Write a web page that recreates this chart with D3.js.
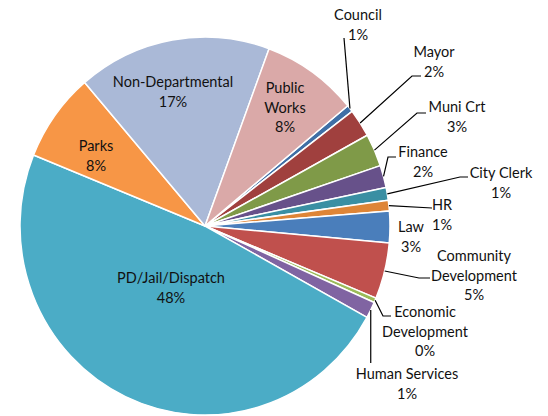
<!DOCTYPE html>
<html>
<head>
<meta charset="utf-8">
<script src="https://cdn.jsdelivr.net/npm/d3@7"></script>
<style>
  html, body { margin: 0; padding: 0; background: #fff; }
  svg { display: block; }
  text { font-family: Lato, "Open Sans", sans-serif; font-size: 14.5px; fill: #111; }
</style>
</head>
<body>
<svg id="chart" width="548" height="416"></svg>
<script>
// Budget share by department (percent of total), clockwise from Council
const categories = [
  "Council", "Mayor", "Muni Crt", "Finance", "City Clerk", "HR", "Law",
  "Community Development", "Economic Development", "Human Services",
  "PD/Jail/Dispatch", "Parks", "Non-Departmental", "Public Works"
];
const shares = [0.6, 2.4, 2.8, 1.9, 1.1, 0.9, 2.7, 4.8, 0.4, 1.4, 48.1, 7.6, 16.9, 8.4];
const colors = [
  "#3f6fa6", "#a0403e", "#7f9a48", "#67518a", "#3a8fa3", "#de8537", "#4a7ebb",
  "#c0504d", "#9bbb59", "#8064a2", "#4bacc6", "#f79646", "#aab9d7", "#daa9a8"
];

// Label placement: text block centre x, first line centre y, text lines, leader path
const labelLayout = {
  "Council":               { x: 358, y: 15,  lines: ["Council"], leader: [[344, 38]] },
  "Mayor":                 { x: 434, y: 52,  lines: ["Mayor"], leader: [[412, 76], [421, 76]] },
  "Muni Crt":              { x: 457, y: 107, lines: ["Muni Crt"], leader: [[417, 113], [426, 113]] },
  "Finance":               { x: 423, y: 152, lines: ["Finance"], leader: [[388, 157], [396, 157]] },
  "City Clerk":            { x: 501, y: 173, lines: ["City Clerk"], leader: [[460, 177], [468, 177]] },
  "HR":                    { x: 442, y: 205, lines: ["HR"], leader: [[432, 208]] },
  "Law":                   { x: 411, y: 227, lines: ["Law"] },
  "Community Development": { x: 474, y: 256, lines: ["Community", "Development"], leader: [[419, 278], [430, 278]] },
  "Economic Development":  { x: 425, y: 312, lines: ["Economic", "Development"], leader: [[383, 316], [391, 316]] },
  "Human Services":        { x: 407, y: 374, lines: ["Human Services"], leader: [[null, 363]] },
  "PD/Jail/Dispatch":      { x: 171, y: 278, lines: ["PD/Jail/Dispatch"] },
  "Parks":                 { x: 96,  y: 146, lines: ["Parks"] },
  "Non-Departmental":      { x: 173, y: 82,  lines: ["Non-Departmental"] },
  "Public Works":          { x: 285, y: 88,  lines: ["Public", "Works"] }
};

const cx = 205, cy = 226, rx = 185, ry = 189;
const lineHeight = 19.5;
const startAngle = 50.5 * Math.PI / 180;

const svg = d3.select("#chart");

const pie = d3.pie()
  .sort(null)
  .value(d => d.value)
  .startAngle(startAngle)
  .endAngle(startAngle + 2 * Math.PI);

const data = categories.map((c, i) => ({ name: c, value: shares[i], color: colors[i] }));
const arcs = pie(data);

const arc = d3.arc().innerRadius(0).outerRadius(rx);

// Slices (slightly taller than wide)
const pieG = svg.append("g")
  .attr("transform", `translate(${cx},${cy}) scale(1,${ry / rx})`);

pieG.selectAll("path")
  .data(arcs)
  .join("path")
  .attr("d", arc)
  .attr("fill", d => d.data.color)
  .attr("stroke", "#fff")
  .attr("stroke-width", 1.5)
  .attr("vector-effect", "non-scaling-stroke")
  .attr("stroke-linejoin", "round");

// Leader lines from slice edge to label
const edgePoint = a => [cx + rx * Math.sin(a), cy - ry * Math.cos(a)];

const leaderG = svg.append("g");
arcs.forEach(d => {
  const lay = labelLayout[d.data.name];
  if (!lay.leader) return;
  const mid = (d.startAngle + d.endAngle) / 2;
  const pts = [edgePoint(mid)];
  lay.leader.forEach(p => {
    const prev = pts[pts.length - 1];
    pts.push([p[0] == null ? prev[0] : p[0], p[1] == null ? prev[1] : p[1]]);
  });
  leaderG.append("path")
    .attr("d", d3.line()(pts))
    .attr("fill", "none")
    .attr("stroke", "#000")
    .attr("stroke-width", 1.2);
});

// Data labels: name lines then rounded percent
const labelG = svg.append("g");
arcs.forEach(d => {
  const lay = labelLayout[d.data.name];
  const lines = lay.lines.concat([Math.round(d.data.value) + "%"]);
  const t = labelG.append("text")
    .attr("text-anchor", "middle");
  lines.forEach((ln, i) => {
    t.append("tspan")
      .attr("x", lay.x)
      .attr("y", lay.y + i * lineHeight + 5)
      .text(ln);
  });
});
</script>
</body>
</html>
